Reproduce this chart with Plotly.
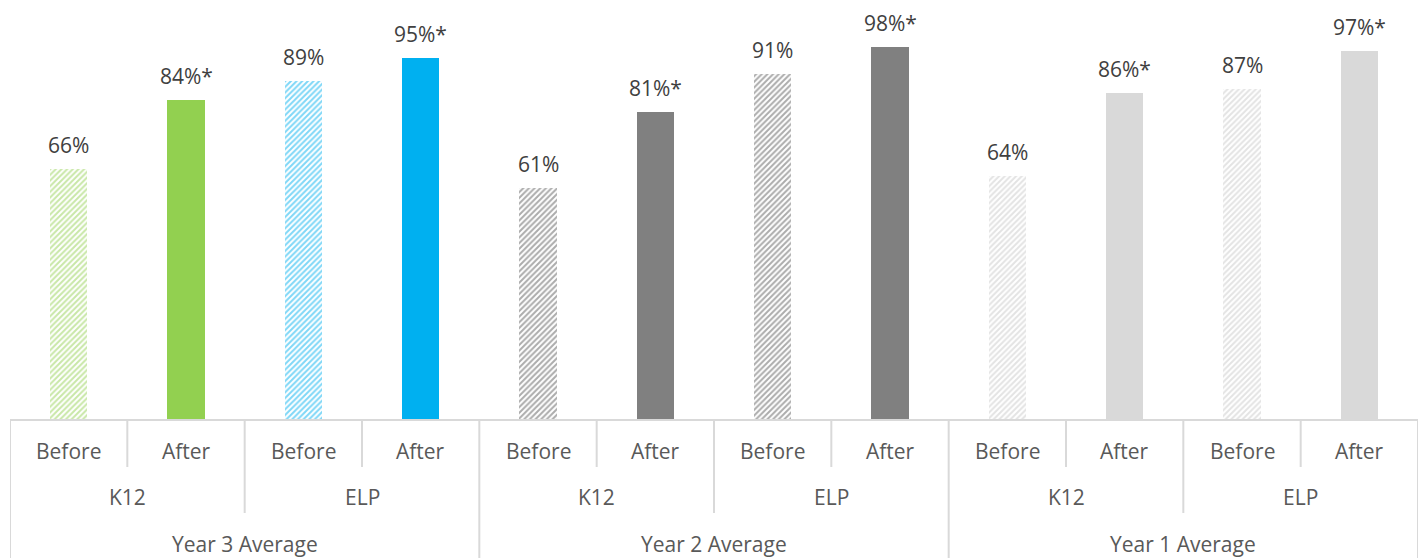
import plotly.graph_objects as go

# Data
years = ["Year 3 Average", "Year 2 Average", "Year 1 Average"]
programs = ["K12", "ELP"]
phases = ["Before", "After"]
values = [66, 84, 89, 95, 61, 81, 91, 98, 64, 86, 87, 97]
significant = [False, True, False, True, False, True, False, True, False, True, False, True]
bar_colors = ["#92D050", "#92D050", "#00B0F0", "#00B0F0",
              "#808080", "#808080", "#808080", "#808080",
              "#D9D9D9", "#D9D9D9", "#D9D9D9", "#D9D9D9"]
hatch_colors = ["#92D050", "#92D050", "#00B0F0", "#00B0F0",
                "#595959", "#595959", "#595959", "#595959",
                "#C8C8C8", "#C8C8C8", "#C8C8C8", "#C8C8C8"]

n = len(values)
xs = list(range(n))
labels = [f"{v}%" + ("*" if s else "") for v, s in zip(values, significant)]

before_idx = [i for i in xs if i % 2 == 0]
after_idx = [i for i in xs if i % 2 == 1]

fig = go.Figure()
# "Before" bars: hatched
fig.add_trace(go.Bar(
    x=before_idx, y=[values[i] for i in before_idx], width=0.316,
    marker=dict(
        color="white",
        line=dict(width=0),
        pattern=dict(
            shape="/",
            fgcolor=[hatch_colors[i] for i in before_idx],
            size=4,
            solidity=0.5,
            fillmode="overlay",
        ),
    ),
    hoverinfo="skip",
))
# "After" bars: solid
fig.add_trace(go.Bar(
    x=after_idx, y=[values[i] for i in after_idx], width=0.316,
    marker=dict(color=[bar_colors[i] for i in after_idx], line=dict(width=0)),
    hoverinfo="skip",
))

TXT = dict(family="Open Sans, sans-serif", size=21, color="#595959")
annotations = []
for i, (v, lab) in enumerate(zip(values, labels)):
    annotations.append(dict(x=i, y=v, xref="x", yref="y", text=lab, showarrow=False,
                            yanchor="bottom", yshift=8,
                            font=dict(family="Open Sans, sans-serif", size=21, color="#404040")))

GRID = "#D9D9D9"
shapes = []
# axis frame: top rule and vertical dividers
shapes.append(dict(type="line", xref="x", yref="paper", x0=-0.5, x1=n - 0.5, y0=0, y1=0,
                   line=dict(color=GRID, width=2)))
paper_bottom = -138 / 420
row1 = -47 / 420
row2 = -93 / 420
for i in range(n + 1):
    xb = i - 0.5
    if i % 4 == 0:
        y1 = paper_bottom
    elif i % 2 == 0:
        y1 = row2
    else:
        y1 = row1
    shapes.append(dict(type="line", xref="x", yref="paper", x0=xb, x1=xb, y0=0, y1=y1,
                       line=dict(color=GRID, width=2)))

# category labels, three levels
for i in xs:
    annotations.append(dict(x=i, y=-31 / 420, xref="x", yref="paper", text=phases[i % 2],
                            showarrow=False, yanchor="middle", font=TXT))
for g in range(n // 2):
    annotations.append(dict(x=2 * g + 0.5, y=-77 / 420, xref="x", yref="paper",
                            text=programs[g % 2], showarrow=False, yanchor="middle", font=TXT))
for k, yr in enumerate(years):
    annotations.append(dict(x=4 * k + 1.5, y=-124 / 420, xref="x", yref="paper",
                            text=yr, showarrow=False, yanchor="middle", font=TXT))

fig.update_layout(
    width=1422, height=558,
    margin=dict(l=10, r=4, t=0, b=138),
    paper_bgcolor="white", plot_bgcolor="white",
    showlegend=False,
    barmode="overlay",
    bargap=0,
    xaxis=dict(range=[-0.5, n - 0.5], showticklabels=False, showgrid=False,
               zeroline=False, showline=False, ticks=""),
    yaxis=dict(range=[0, 110.35], visible=False),
    shapes=shapes,
    annotations=annotations,
)

fig.write_html("out.html")
